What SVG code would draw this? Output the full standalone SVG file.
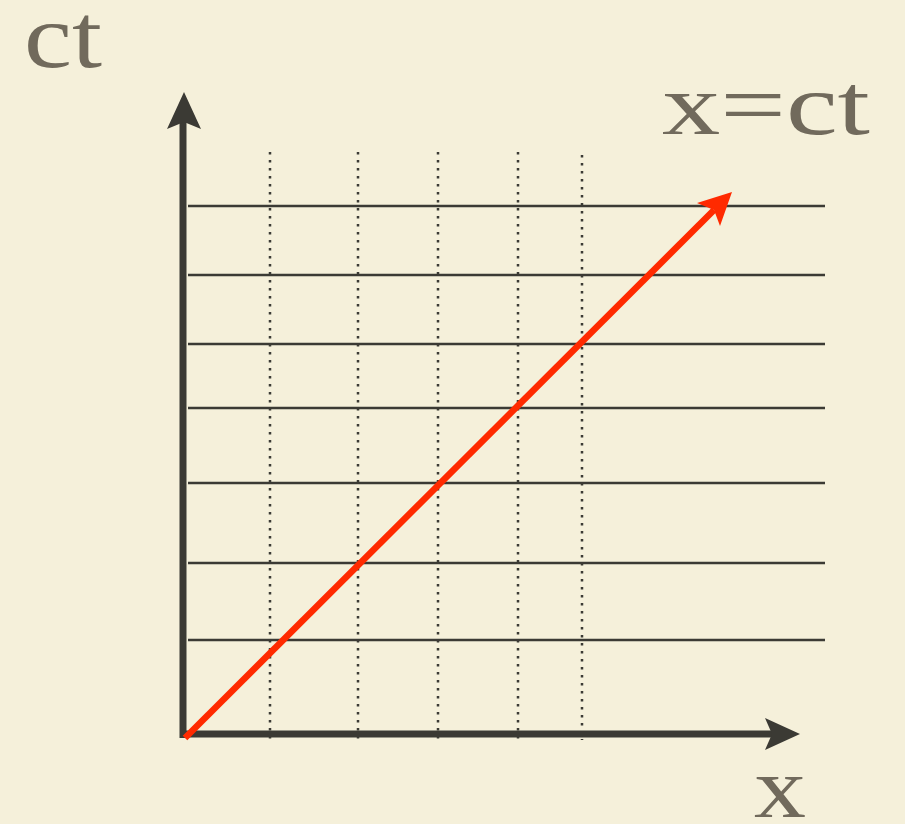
<svg xmlns="http://www.w3.org/2000/svg" width="905" height="824" viewBox="0 0 905 824">
<style>
.grid{stroke:#3b3a34;stroke-width:2.5;fill:none}
.dot{stroke:#3b3a34;stroke-width:2.5;stroke-dasharray:2.5 5.5;fill:none}
.axis{stroke:#3b3a34;stroke-width:7;fill:none}
.lbl{font-family:"Liberation Serif","DejaVu Serif",serif;fill:#716a5c}
</style>
<rect width="905" height="824" fill="#f5f0da"/>
<g id="grid">
<line class="grid" x1="188" y1="206" x2="825" y2="206"/>
<line class="grid" x1="188" y1="275" x2="825" y2="275"/>
<line class="grid" x1="188" y1="344" x2="825" y2="344"/>
<line class="grid" x1="188" y1="408" x2="825" y2="408"/>
<line class="grid" x1="188" y1="483" x2="825" y2="483"/>
<line class="grid" x1="188" y1="563" x2="825" y2="563"/>
<line class="grid" x1="188" y1="640" x2="825" y2="640"/>
<line class="dot" x1="270" y1="152" x2="270" y2="740"/>
<line class="dot" x1="358" y1="152" x2="358" y2="740"/>
<line class="dot" x1="438" y1="152" x2="438" y2="740"/>
<line class="dot" x1="518" y1="152" x2="518" y2="740"/>
<line class="dot" x1="582" y1="155" x2="582" y2="740"/>
</g>
<g id="ct-axis">
<line class="axis" x1="183" y1="738" x2="183" y2="120"/>
<polygon points="184,92 201,129 184,122 167,129" fill="#3b3a34"/>
</g>
<g id="x-axis">
<line class="axis" x1="180" y1="734" x2="772" y2="734"/>
<polygon points="800,734 765,750 772,734 765,718" fill="#3b3a34"/>
</g>
<g id="connectors">
<line x1="185" y1="738" x2="714" y2="210" stroke="#ff2a00" stroke-width="6.5"/>
<polygon points="732,192 720,226 714,210 697,203" fill="#ff2a00"/>
</g>
<g id="labels">
<text class="lbl" x="24" y="67" font-size="91" textLength="78" lengthAdjust="spacingAndGlyphs">ct</text>
<text class="lbl" x="662" y="134" font-size="86" textLength="208" lengthAdjust="spacingAndGlyphs">x=ct</text>
<text class="lbl" x="754" y="817" font-size="86" textLength="52" lengthAdjust="spacingAndGlyphs">x</text>
</g>
</svg>
